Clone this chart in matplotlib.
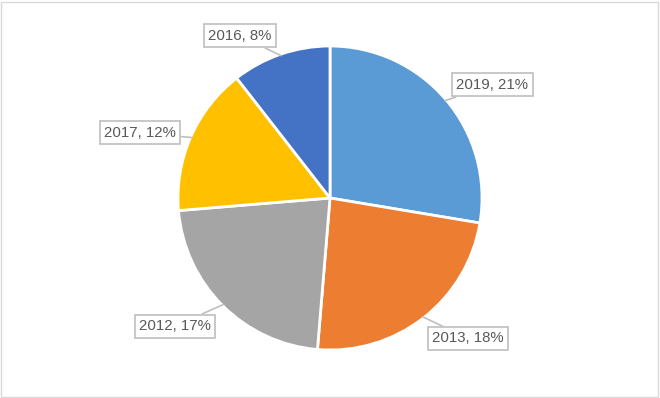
import numpy as np
import matplotlib.pyplot as plt
from matplotlib.patches import Rectangle

years = ["2019", "2013", "2012", "2017", "2016"]
shares = [21, 18, 17, 12, 8]
colours = ["#5B9BD5", "#ED7D31", "#A5A5A5", "#FFC000", "#4472C4"]

# label box centres in pixels (x from left, y from top)
label_px = [(492, 85), (468, 338), (175, 326), (140, 133), (240, 36)]

R = 152.0
cx, cy = 330.0, 198.0

fig = plt.figure(figsize=(6.6, 3.98), dpi=100)
ax = fig.add_axes([0, 0, 1, 1])
ax.axis("off")

wedges, _ = ax.pie(shares, colors=colours, startangle=90, counterclock=False,
                   radius=1.0, wedgeprops=dict(edgecolor="white", linewidth=2))
ax.set_aspect("auto")
ax.set_xlim(-cx / R, (660 - cx) / R)
ax.set_ylim(-(398 - cy) / R, cy / R)

for w, yr, val, (px, py) in zip(wedges, years, shares, label_px):
    mid = np.deg2rad((w.theta1 + w.theta2) / 2)
    tip = (0.99 * np.cos(mid), 0.99 * np.sin(mid))
    tx, ty = (px - cx) / R, (cy - py) / R
    ax.annotate(f"{yr}, {val}%", xy=tip, xytext=(tx, ty),
                ha="center", va="center", fontsize=10.8, color="#595959",
                family="Liberation Sans",
                bbox=dict(boxstyle="square,pad=0.3", fc="white", ec="#BFBFBF", lw=1.2),
                arrowprops=dict(arrowstyle="-", color="#BFBFBF", lw=1.2,
                                shrinkA=0, shrinkB=0))

fig.patches.append(Rectangle((0.002, 0.003), 0.995, 0.993, transform=fig.transFigure,
                             fill=False, ec="#D9D9D9", lw=1))
fig.savefig("out.png", dpi=100, facecolor="white")
